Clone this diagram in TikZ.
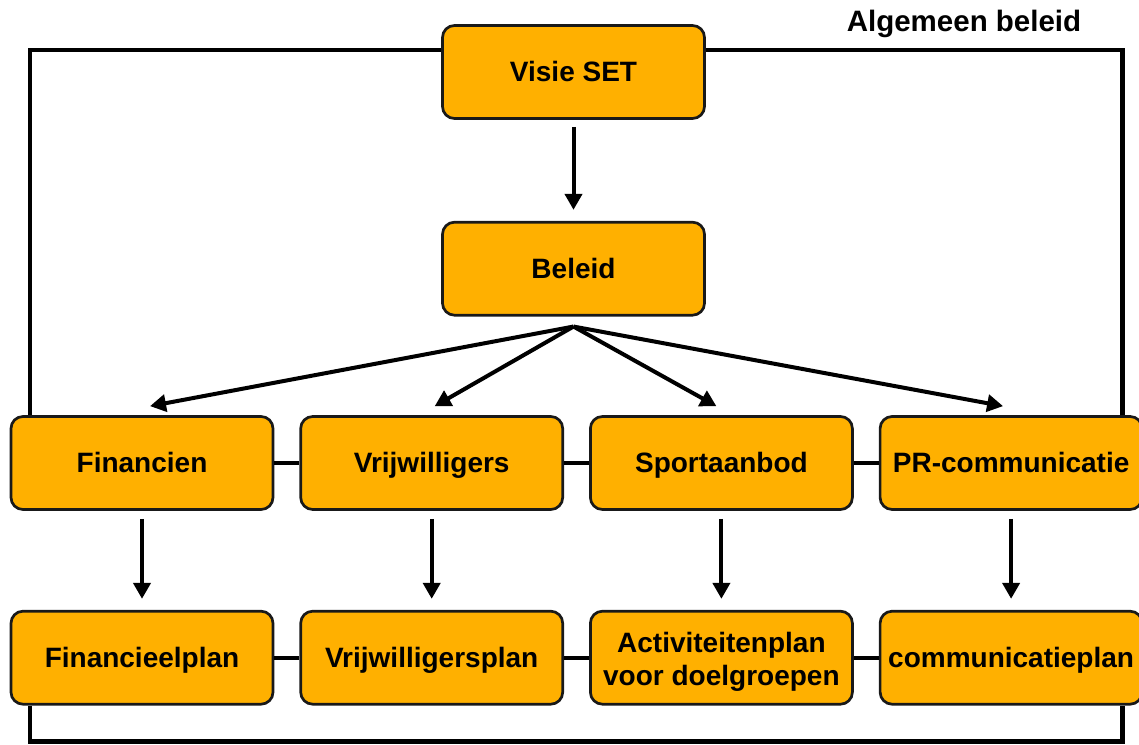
\documentclass[tikz,border=0pt]{standalone}
\usepackage{fontspec}
\setmainfont{Liberation Sans}
\usetikzlibrary{arrows.meta, positioning}
\definecolor{oranje}{RGB}{255,176,0}

\begin{document}
\begin{tikzpicture}[x=1pt, y=1pt, node distance=101pt, every node/.style={font=\bfseries\fontsize{28}{33}\selectfont},
  blok/.style={draw=black!90, line width=2.7pt, rounded corners=12pt, fill=oranje, minimum width=262pt, minimum height=93pt, inner sep=0pt, align=center, text height=22pt, text depth=3pt},
  pijl/.style={-{Triangle[width=17pt,length=16pt]}, line width=4pt},
  lijn/.style={line width=4.3pt}]
\useasboundingbox (0,0) rectangle (1139,744);

\node (visie) [blok] at (573.5,672) {Visie SET};
\node (beleid) [blok, below=of visie] {Beleid};
\coordinate [below=10pt of beleid] (knoop);

\node (fin) [blok] at (142,281) {Financien};
\node (vrij) [blok, right=25pt of fin] {Vrijwilligers};
\node (sport) [blok, right=25pt of vrij] {Sportaanbod};
\node (pr) [blok, right=25pt of sport] {PR-communicatie};

\node (finplan) [blok, below=99pt of fin] {Financieelplan};
\node (vrijplan) [blok, below=99pt of vrij] {Vrijwilligersplan};
\node (actplan) [blok, below=99pt of sport, text height=58pt] {Activiteitenplan\\voor doelgroepen};
\node (complan) [blok, below=99pt of pr] {communicatieplan};

\node (titel) at (964,720) [font=\bfseries\fontsize{29.5}{35}\selectfont] {Algemeen beleid};

% kader rond alles
\draw[lijn] ([xshift=20pt]fin.north west) |- ([yshift=22pt]visie.west);
\draw[lijn] ([yshift=22pt]visie.east) -| ([xshift=-21pt]pr.north east);
\draw[lijn] ([xshift=20pt]finplan.south west) -- ++(0,-36) -| ([xshift=-21pt]complan.south east);

% verbindingen tussen de blokken
\draw[lijn] (fin) -- (vrij);
\draw[lijn] (vrij) -- (sport);
\draw[lijn] (sport) -- (pr);
\draw[lijn] (finplan) -- (vrijplan);
\draw[lijn] (vrijplan) -- (actplan);
\draw[lijn] (actplan) -- (complan);

% pijlen
\draw[pijl, shorten <=7pt, shorten >=11pt] (visie) -- (beleid);
\draw[pijl] (knoop) -- ([xshift=8pt, yshift=9pt]fin.north);
\draw[pijl] (knoop) -- ([xshift=3pt, yshift=9pt]vrij.north);
\draw[pijl] (knoop) -- ([xshift=-5pt, yshift=9pt]sport.north);
\draw[pijl] (knoop) -- ([xshift=-8pt, yshift=9pt]pr.north);
\draw[pijl, shorten <=8pt, shorten >=11pt] (fin) -- (finplan);
\draw[pijl, shorten <=8pt, shorten >=11pt] (vrij) -- (vrijplan);
\draw[pijl, shorten <=8pt, shorten >=11pt] (sport) -- (actplan);
\draw[pijl, shorten <=8pt, shorten >=11pt] (pr) -- (complan);
\end{tikzpicture}
\end{document}
